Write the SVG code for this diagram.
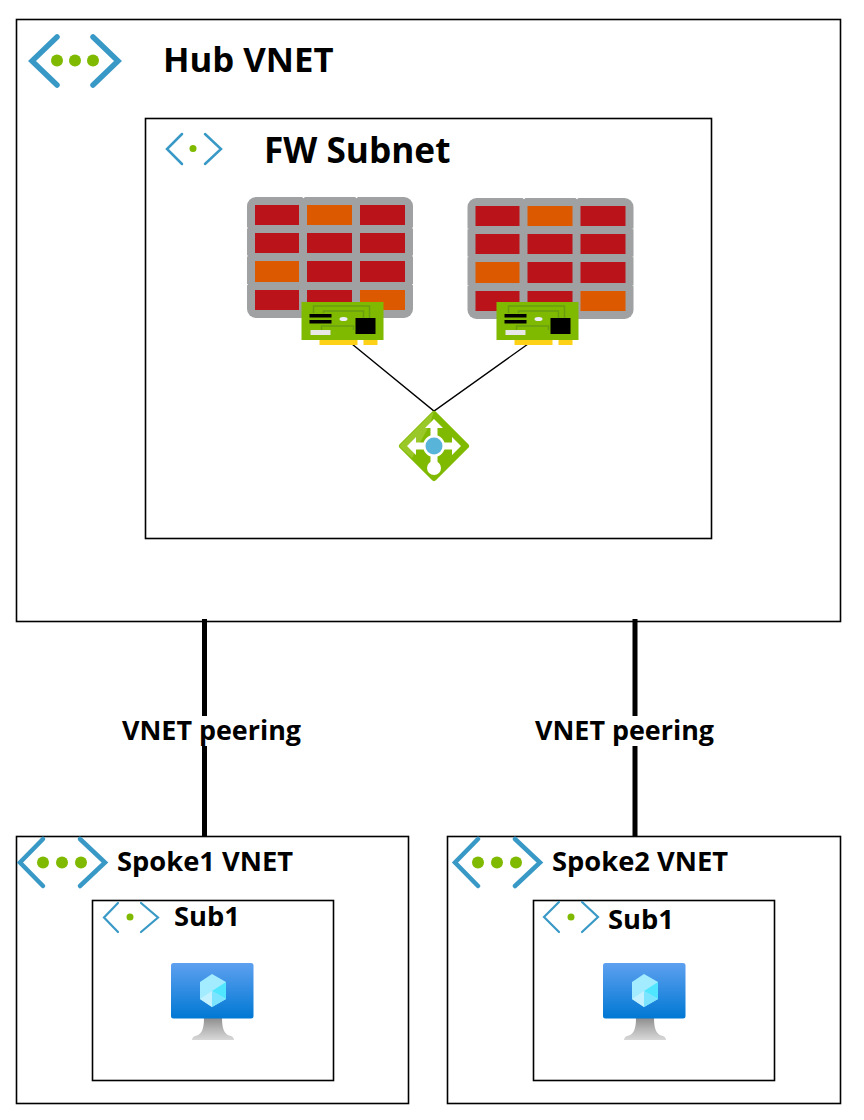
<svg xmlns="http://www.w3.org/2000/svg" width="864" height="1120" viewBox="0 0 864 1120">
<style>
.box{fill:#fff;stroke:#000;stroke-width:1.6}
.t{font-family:"Open Sans","Noto Sans",sans-serif;font-weight:700;fill:#000}
.peer{stroke:#000;stroke-width:5;fill:none}
.thin{stroke:#000;stroke-width:1.4;fill:none}
.chev{fill:none;stroke:#3999c6;stroke-linecap:round;stroke-linejoin:miter}
.dot{fill:#7fba00}
.red{fill:#ba141a}.org{fill:#dd5900}.gr{fill:#a0a1a2}
</style>
<defs>
<linearGradient id="scr" x1="0" y1="0" x2="0" y2="1"><stop offset="0" stop-color="#5ea0ef"/><stop offset="1" stop-color="#0078d4"/></linearGradient>
<linearGradient id="std" x1="0" y1="0" x2="0" y2="1"><stop offset="0" stop-color="#8e8e8e"/><stop offset="0.5" stop-color="#b5b5b5"/><stop offset="1" stop-color="#d8d8d8"/></linearGradient>
<g id="fw">
<rect class="gr" x="0" y="0" width="166" height="121" rx="9"/>
<path d="M0 30.500h1.200l-1.200 1.500zM0 58.500h1.200l-1.200 1.500zM0 87h1.200l-1.200 1.500zM166 30.500h-1.200l1.200 1.500zM166 58.500h-1.200l1.200 1.500zM166 87h-1.200l1.200 1.500zM55 0l1.500 1.200 1.500-1.200zM108 0l1.500 1.200 1.500-1.200z" fill="#fff"/>
<rect class="red" x="8" y="8" width="44" height="20"/><rect class="org" x="60" y="8" width="45" height="20"/><rect class="red" x="113" y="8" width="45" height="20"/>
<rect class="red" x="8" y="36" width="44" height="20"/><rect class="red" x="60" y="36" width="45" height="20"/><rect class="red" x="113" y="36" width="45" height="20"/>
<rect class="org" x="8" y="64" width="44" height="21"/><rect class="red" x="60" y="64" width="45" height="21"/><rect class="red" x="113" y="64" width="45" height="21"/>
<rect class="red" x="8" y="93" width="44" height="20"/><rect class="red" x="60" y="93" width="45" height="20"/><rect class="org" x="113" y="93" width="45" height="20"/>
</g>
<g id="nic">
<rect x="18" y="38" width="38" height="5" fill="#fcd116"/><rect x="62" y="38" width="14" height="5" fill="#fcd116"/>
<rect x="0" y="0" width="82" height="38" fill="#7fba00"/>
<path d="M12 11V4H68V16M22 11V9H62V16M20 28V24H52V28" fill="none" stroke="#6a9e10" stroke-width="1.5"/>
<rect x="8" y="12" width="22" height="3.500" fill="#000"/><rect x="8" y="18" width="22" height="3.500" fill="#000"/>
<ellipse cx="42" cy="17" rx="4" ry="2" fill="#eef"/>
<rect x="54" y="16" width="20" height="16" fill="#000"/>
<rect x="9" y="28" width="20" height="5" fill="#e8e8e8"/>
</g>
<g id="vm">
<path d="M33 55H51C51 67 54 72 60 73C62 74 63 75 63 77H21C21 75 22 74 24 73C30 72 33 67 33 55z" fill="url(#std)"/>
<rect x="0" y="0" width="82.500" height="55.500" rx="2.500" fill="url(#scr)"/>
<path d="M41 11L55 19V36L41 44L29 36V19z" fill="#a3ecff"/>
<path d="M41 28L55 36V19z" fill="#50e6ff"/>
<path d="M41 28L55 36L41 44z" fill="#7ce4ff"/>
<path d="M41 28V44L29 36z" fill="#c3f1ff"/>
</g>
<g id="lb">
<path d="M0 -32L32 0L0 32L-32 0z" fill="#7fba00" stroke="#7fba00" stroke-width="6" stroke-linejoin="round"/>
<path d="M-35 0L0 -35L-4 -22L-22 12Z" fill="#a6cf3a" opacity="0.7"/>
<path d="M-3.500 -5V-18H-9L0 -27L9 -18H3.500V-5ZM-5 -3.500H-18V-9L-27 0L-18 9V3.500H-5ZM5 -3.500H18V-9L27 0L18 9V3.500H5ZM-3.500 5H3.500V17H-3.500Z" fill="#fff"/>
<circle cx="0" cy="0" r="11" fill="#fff"/>
<circle cx="0" cy="0" r="8.500" fill="#59b4d9"/>
<circle cx="0" cy="22" r="7" fill="#fff"/>
</g>
</defs>

<g id="hub-vnet">
<rect class="box" x="16.500" y="19.500" width="824" height="602"/>
<path class="chev" stroke-width="5.500" d="M57 37L32 61L57 85M93 37L118 61L93 85"/>
<circle class="dot" cx="57" cy="60.500" r="6"/><circle class="dot" cx="75" cy="60.500" r="6"/><circle class="dot" cx="93" cy="60.500" r="6"/>
<text class="t" x="163" y="72" font-size="34.700">Hub VNET</text>
</g>
<g id="fw-subnet">
<rect class="box" x="145.500" y="118.500" width="566" height="420"/>
<path class="chev" stroke-width="2.500" d="M182 134L167 149L182 164M205 134L221 149L205 164"/>
<circle class="dot" cx="193" cy="148.500" r="3.500"/>
<text class="t" x="264" y="163" font-size="35.200">FW Subnet</text>
</g>
<g id="connectors">
<path class="thin" d="M352 344L434 411L528 344"/>
<path class="peer" d="M204.500 619V838M635 619V838"/>
</g>
<g id="firewall-1"><use href="#fw" x="247" y="197"/></g>
<g id="firewall-2"><use href="#fw" x="467.500" y="198"/></g>
<g id="nic-1"><use href="#nic" x="301.500" y="302"/></g>
<g id="nic-2"><use href="#nic" x="496.500" y="302"/></g>
<g id="load-balancer"><use href="#lb" x="434" y="446"/></g>
<g id="peering-label-1"><rect x="120" y="716" width="184" height="30" fill="#fff"/><text class="t" x="122" y="740" font-size="26.900">VNET peering</text></g>
<g id="peering-label-2"><rect x="533" y="716" width="184" height="30" fill="#fff"/><text class="t" x="535" y="740" font-size="26.900">VNET peering</text></g>
<g id="spoke1-vnet">
<rect class="box" x="16.500" y="836.500" width="392" height="267"/>
<path class="chev" stroke-width="4.500" d="M43 839L20 862.500L43 886M80 839L105 862.500L80 886"/>
<circle class="dot" cx="43" cy="862.500" r="6"/><circle class="dot" cx="62" cy="862.500" r="6"/><circle class="dot" cx="81" cy="862.500" r="6"/>
<text class="t" x="117" y="871" font-size="27.300">Spoke1 VNET</text>
</g>
<g id="spoke1-sub1">
<rect class="box" x="92.500" y="900.500" width="241" height="180"/>
<path class="chev" stroke-width="2.200" d="M118 903L104 917.500L118 932M141 903L158 917.500L141 932"/>
<circle class="dot" cx="130" cy="917" r="3.500"/>
<text class="t" x="174" y="926" font-size="27.300">Sub1</text>
<use href="#vm" x="171" y="963"/>
</g>
<g id="spoke2-vnet">
<rect class="box" x="447.500" y="836.500" width="393" height="267"/>
<path class="chev" stroke-width="4.500" d="M478 839L455 862.500L478 886M515 839L540 862.500L515 886"/>
<circle class="dot" cx="478" cy="862.500" r="6"/><circle class="dot" cx="497" cy="862.500" r="6"/><circle class="dot" cx="516" cy="862.500" r="6"/>
<text class="t" x="552" y="871" font-size="27.300">Spoke2 VNET</text>
</g>
<g id="spoke2-sub1">
<rect class="box" x="533.500" y="900.500" width="241" height="180"/>
<path class="chev" stroke-width="2.200" d="M559 902L544 917L559 932M582 902L598 917L582 932"/>
<circle class="dot" cx="571" cy="917" r="3.500"/>
<text class="t" x="608" y="929" font-size="27.300">Sub1</text>
<use href="#vm" x="603" y="963"/>
</g>
</svg>
